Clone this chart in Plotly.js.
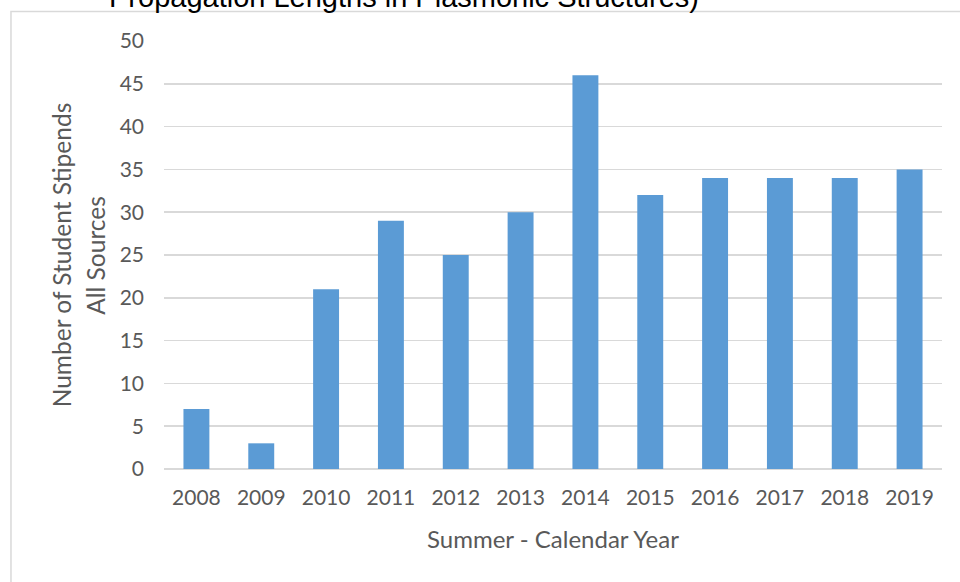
<!DOCTYPE html>
<html>
<head>
<meta charset="utf-8">
<script src="https://cdn.plot.ly/plotly-3.0.1.min.js"></script>
<style>
  html, body { margin: 0; padding: 0; background: #ffffff; }
  #chart { width: 960px; height: 582px; }
</style>
</head>
<body>
<div id="chart"></div>
<script>
// ---- data ----
const years = ["2008", "2009", "2010", "2011", "2012", "2013", "2014", "2015", "2016", "2017", "2018", "2019"];
const stipends = [7, 3, 21, 29, 25, 30, 46, 32, 34, 34, 34, 35];
const yTicks = [0, 5, 10, 15, 20, 25, 30, 35, 40, 45, 50];

const chartTitle = "Propagation Lengths in Plasmonic Structures)";
const xTitle = "Summer - Calendar Year";
const yTitleLine1 = "Number of Student Stipends";
const yTitleLine2 = "All Sources";

const textColor = "#595959";
const gridColor = "#d9d9d9";
const barColor = "#5b9bd5";
const uiFont = "Lato, 'Open Sans', sans-serif";

const trace = {
  type: "bar",
  x: years,
  y: stipends,
  marker: { color: barColor },
  hoverinfo: "x+y"
};

const layout = {
  width: 960,
  height: 582,
  margin: { l: 164, r: 18, t: 41, b: 113, pad: 0 },
  paper_bgcolor: "#ffffff",
  plot_bgcolor: "#ffffff",
  showlegend: false,
  bargap: 0.6,
  font: { family: uiFont, color: textColor, size: 21 },
  xaxis: {
    type: "category",
    showgrid: false,
    showline: false,
    zeroline: false,
    ticks: "",
    ticklabelstandoff: 14,
    tickfont: { family: uiFont, size: 21, color: textColor },
    title: { text: xTitle, font: { family: uiFont, size: 24, color: textColor }, standoff: 23 }
  },
  yaxis: {
    range: [0, 50],
    tickvals: yTicks,
    ticktext: yTicks.map(String),
    showgrid: true,
    gridcolor: gridColor,
    gridwidth: 1.5,
    zeroline: true,
    zerolinecolor: gridColor,
    zerolinewidth: 1.5,
    showline: false,
    ticks: "",
    ticklabelstandoff: 19,
    tickfont: { family: uiFont, size: 21, color: textColor }
  },
  shapes: [
    {
      type: "rect", xref: "paper", yref: "paper",
      x0: -0.1967, x1: 1.2, y0: -0.5, y1: 1.069,
      line: { color: gridColor, width: 1.5 },
      fillcolor: "rgba(0,0,0,0)",
      layer: "below"
    }
  ],
  annotations: [
    {
      text: chartTitle, xref: "paper", yref: "paper",
      x: -0.0733, y: 1.103, xanchor: "left", yanchor: "middle",
      showarrow: false,
      font: { family: "'Liberation Sans', Arial, sans-serif", size: 29, color: "#000000" }
    },
    {
      text: yTitleLine1, xref: "paper", yref: "paper",
      x: -0.1320, y: 0.5, xanchor: "center", yanchor: "middle",
      textangle: -90, showarrow: false,
      font: { family: uiFont, size: 24.5, color: textColor }
    },
    {
      text: yTitleLine2, xref: "paper", yref: "paper",
      x: -0.0890, y: 0.5, xanchor: "center", yanchor: "middle",
      textangle: -90, showarrow: false,
      font: { family: uiFont, size: 24.5, color: textColor }
    }
  ]
};

Plotly.newPlot("chart", [trace], layout, { displayModeBar: false, staticPlot: true });
</script>
</body>
</html>
